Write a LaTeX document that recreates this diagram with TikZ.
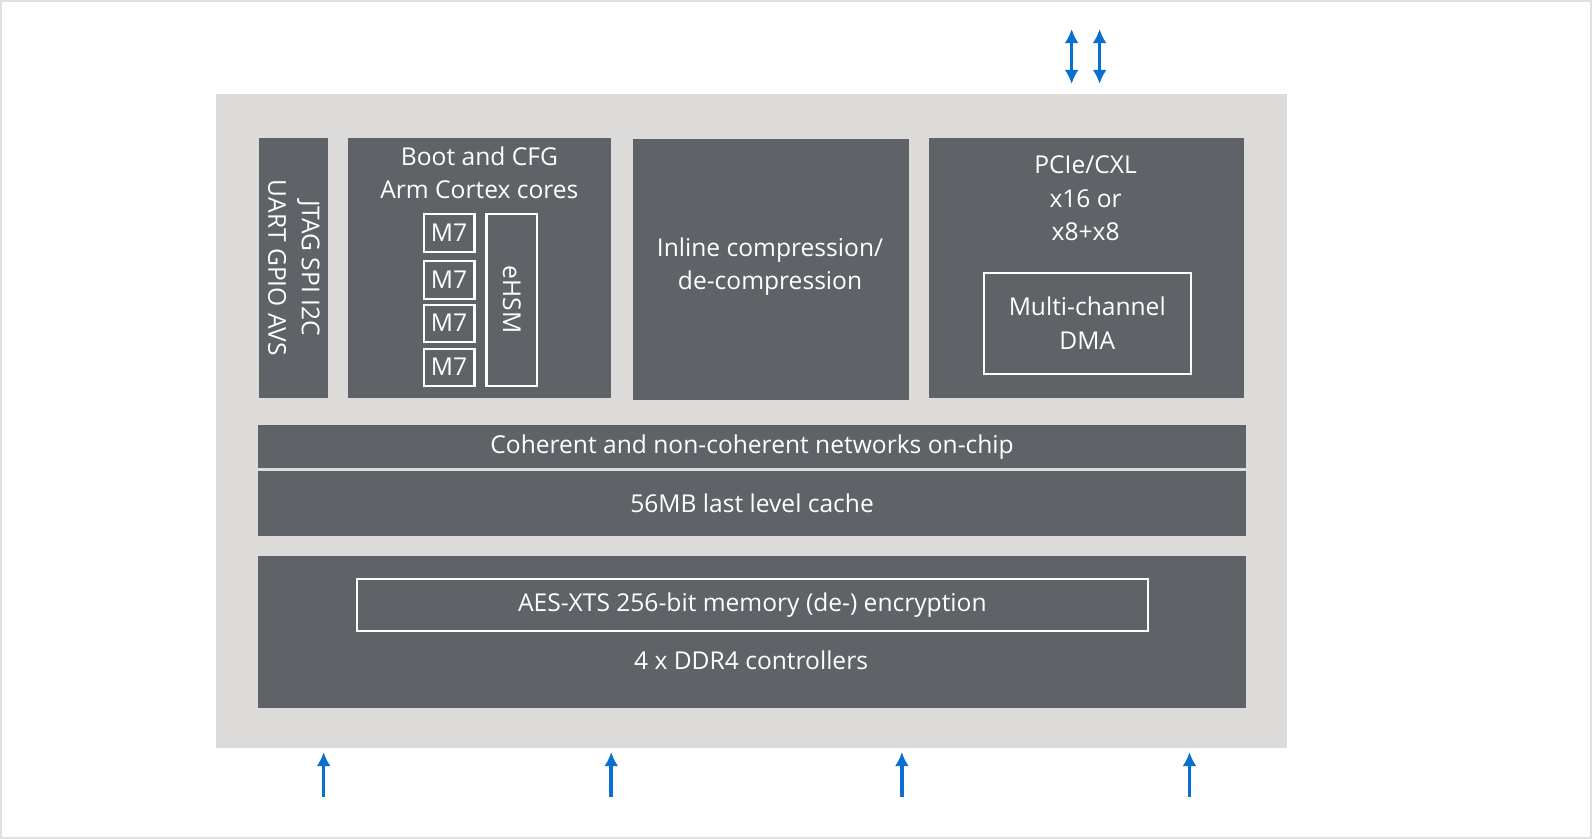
\documentclass[tikz,border=0pt]{standalone}
\usepackage{fontspec}
\setmainfont{Open Sans}
\usetikzlibrary{arrows.meta}
\definecolor{panelgray}{HTML}{DCDBD9}
\definecolor{blockgray}{HTML}{5F6267}
\definecolor{arrowblue}{HTML}{0A6FD1}
\tikzset{
  txt/.style={text=white, font=\fontsize{7}{9.6}\selectfont, align=center, inner sep=0pt},
  block/.style={txt, fill=blockgray, draw=none},
  inbox/.style={txt, draw=white, line width=0.6pt},
  sig/.style={arrowblue, line width=1pt, -{Latex[length=4pt,width=4pt]}},
  bisig/.style={arrowblue, line width=1pt, {Latex[length=4pt,width=4pt]}-{Latex[length=4pt,width=4pt]}}
}
\begin{document}
\begin{tikzpicture}[x=0.01cm, y=-0.01cm]

\draw[fill=white, draw=black!12, line width=0.6pt] (0,0) rectangle (1592,838);
\fill[panelgray] (215,93) rectangle (1288,748);

\node[block, minimum width=0.69cm, minimum height=2.61cm, anchor=north west] (io) at (258,136) {};
\node[txt, rotate=-90] at (io.center) {JTAG SPI I2C\\UART GPIO AVS};

\node[block, minimum width=2.63cm, minimum height=2.61cm, anchor=north west] (boot) at (347,136) {};
\node[txt, anchor=north] at (479,145) {Boot and CFG\\Arm Cortex cores};
\foreach \y/\h [count=\i] in {212/0.38, 259/0.38, 303/0.37, 347/0.37}
  \node[inbox, minimum width=0.51cm, minimum height=\h cm, anchor=north west] (m\i) at (422,\y) {M7};
\node[inbox, minimum width=0.51cm, minimum height=1.72cm, anchor=north west] (ehsm) at (485,212) {};
\node[txt, rotate=-90] at (ehsm.center) {eHSM};

\node[block, minimum width=2.76cm, minimum height=2.62cm, anchor=north west] (comp) at (632,137) {};
\node[txt] at (770,266) {Inline compression/\\de-compression};

\node[block, minimum width=3.16cm, minimum height=2.61cm, anchor=north west] (pcie) at (928,136) {};
\node[txt, anchor=north] at (1086,154) {PCIe/CXL\\x16 or\\x8+x8};
\node[inbox, minimum width=2.07cm, minimum height=1.01cm, anchor=north west] (dma) at (983,271) {Multi-channel\\DMA};

\node[block, minimum width=9.88cm, minimum height=0.43cm, anchor=north west] (noc) at (257,424) {Coherent and non-coherent networks on-chip};
\node[block, minimum width=9.88cm, minimum height=0.65cm, anchor=north west] (llc) at (257,470) {56MB last level cache};

\node[block, minimum width=9.88cm, minimum height=1.52cm, anchor=north west] (ddr) at (257,555) {};
\node[inbox, minimum width=7.92cm, minimum height=0.52cm, anchor=north west] (aes) at (355,578) {AES-XTS 256-bit memory (de-) encryption};
\node[txt] at (751,660) {4 x DDR4 controllers};

% memory channels
\foreach \x [count=\i] in {323, 611, 902, 1190} {
  \coordinate (lo\i) at (\x,797);
  \draw[sig] (lo\i) -- (\x,752);
}
% host link
\foreach \x [count=\i] in {1072, 1100} {
  \coordinate (hi\i) at (\x,28);
  \draw[bisig] (hi\i) -- (\x,83);
}

\end{tikzpicture}
\end{document}
